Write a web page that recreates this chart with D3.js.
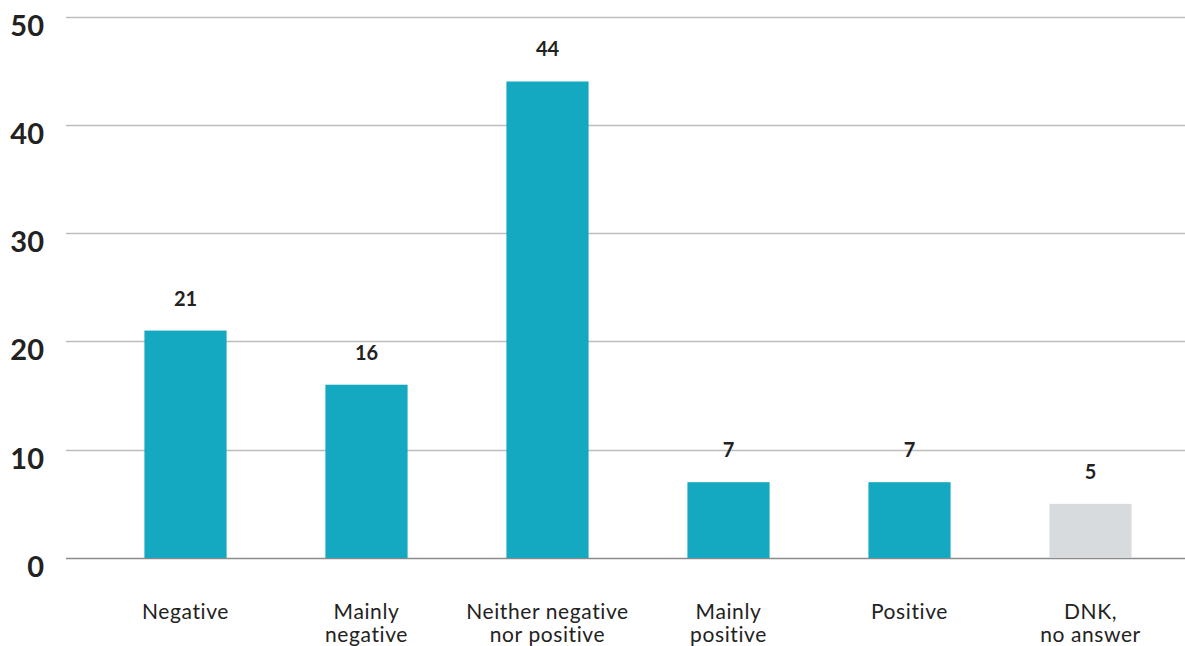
<!DOCTYPE html>
<html>
<head>
<meta charset="utf-8">
<script src="https://cdn.jsdelivr.net/npm/d3@7/dist/d3.min.js"></script>
<style>
  html, body { margin: 0; padding: 0; background: #fff; }
  svg { display: block; }
  text { font-family: Lato, "Open Sans", sans-serif; fill: #222; }
</style>
</head>
<body>
<svg id="chart" width="1185" height="646"></svg>
<script>
// Survey answers (%)
const categories = [
  ["Negative"],
  ["Mainly", "negative"],
  ["Neither negative", "nor positive"],
  ["Mainly", "positive"],
  ["Positive"],
  ["DNK,", "no answer"]
];
const values = [21, 16, 44, 7, 7, 5];
const yTicks = [0, 10, 20, 30, 40, 50];

const W = 1185, H = 646;
const svg = d3.select("#chart");

const y = d3.scaleLinear().domain([0, 50]).range([558, 16.5]);
const x = d3.scaleBand()
  .domain(d3.range(categories.length))
  .range([95, 1181])
  .paddingInner(0.546)
  .paddingOuter(0.273);

// Grid lines
svg.append("g")
  .selectAll("line")
  .data(yTicks)
  .join("line")
  .attr("x1", 66)
  .attr("x2", W)
  .attr("y1", d => Math.round(y(d)) + 0.5)
  .attr("y2", d => Math.round(y(d)) + 0.5)
  .attr("stroke", d => d === 0 ? "#8a8a8a" : "#bdbdbd")
  .attr("stroke-width", 1.3);

// Y tick labels
svg.append("g")
  .selectAll("text")
  .data(yTicks)
  .join("text")
  .attr("x", 44)
  .attr("y", d => y(d) + 19)
  .attr("text-anchor", "end")
  .style("font-size", "29px")
  .style("font-weight", "700")
  .text(d => d);

// Bars
svg.append("g")
  .selectAll("rect")
  .data(values)
  .join("rect")
  .attr("x", (d, i) => x(i))
  .attr("width", x.bandwidth())
  .attr("y", d => y(d))
  .attr("height", d => y(0) - y(d))
  .attr("fill", (d, i) => i === categories.length - 1 ? "#d8dbde" : "#14a8c1");

// Value labels
svg.append("g")
  .selectAll("text")
  .data(values)
  .join("text")
  .attr("x", (d, i) => x(i) + x.bandwidth() / 2)
  .attr("y", d => y(d) - 25)
  .attr("text-anchor", "middle")
  .style("font-size", "20px")
  .style("font-weight", "700")
  .text(d => d);

// Category labels
const cat = svg.append("g")
  .selectAll("text")
  .data(categories)
  .join("text")
  .attr("x", (d, i) => x(i) + x.bandwidth() / 2)
  .attr("y", 619)
  .attr("text-anchor", "middle")
  .style("font-size", "21px")
  .style("letter-spacing", "0.6px");
cat.selectAll("tspan")
  .data(d => d)
  .join("tspan")
  .attr("x", function() { return d3.select(this.parentNode).attr("x"); })
  .attr("dy", (d, i) => i === 0 ? 0 : 23)
  .text(d => d);
</script>
</body>
</html>
